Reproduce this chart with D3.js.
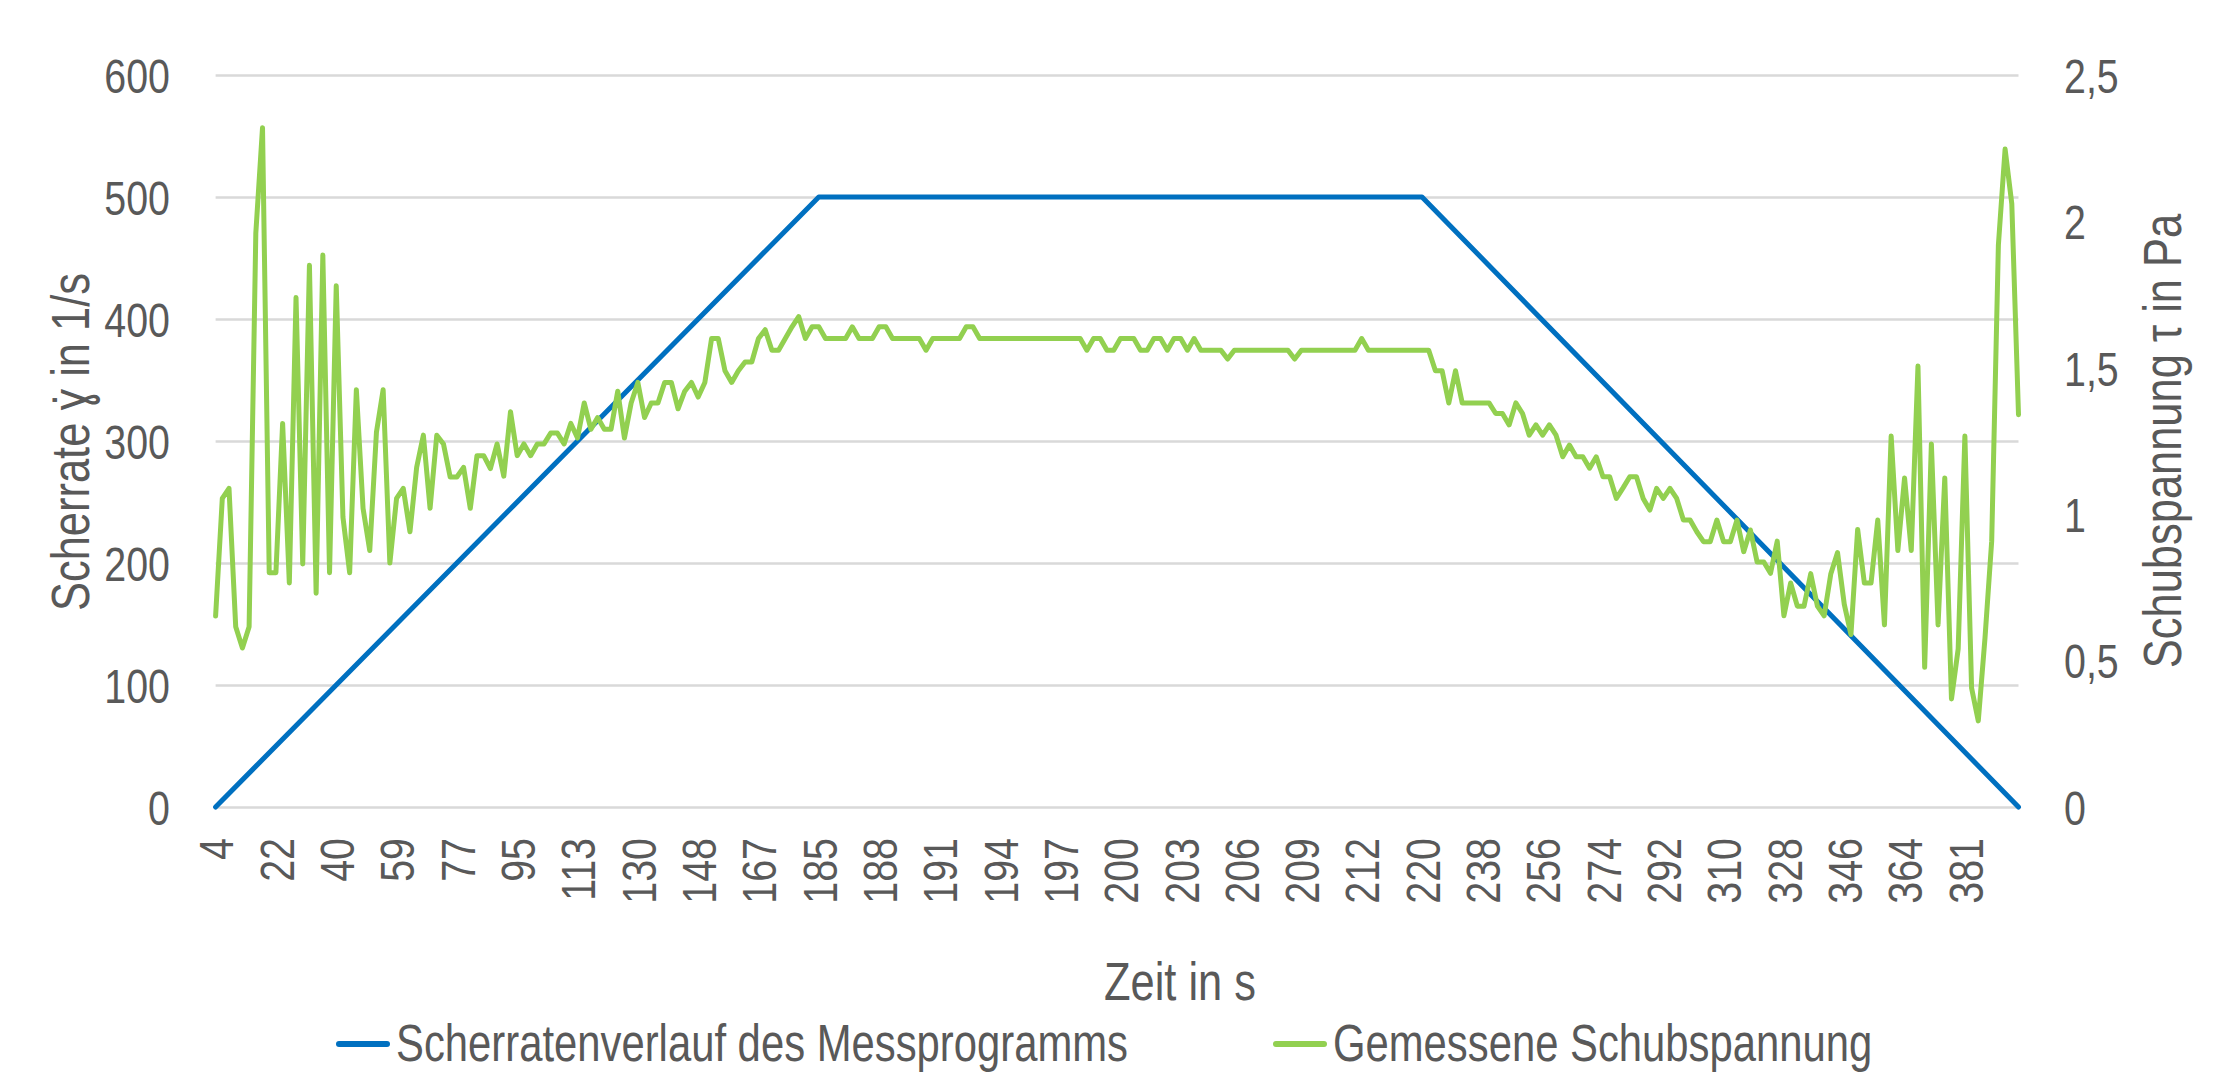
<!DOCTYPE html>
<html>
<head>
<meta charset="utf-8">
<script src="https://cdn.jsdelivr.net/npm/d3@7"></script>
<style>
body { margin: 0; background: #fff; }
text { font-family: "Liberation Sans", Arial, sans-serif; fill: #595959; }
</style>
</head>
<body>
<svg id="chart" width="2215" height="1074"></svg>
<script>
// x category labels (every 9th measurement point)
var xLabels = ["4","22","40","59","77","95","113","130","148","167","185","188","191","194","197","200","203","206","209","212","220","238","256","274","292","310","328","346","364","381"];
var labelStep = 9;

// programmed shear rate (1/s): corner points of the ramp
var rateIdx = [0, 90, 180, 269];
var rateVal = [0, 500, 500, 0];

// measured shear stress (Pa), one value per point
var stress = [
  0.652, 1.054, 1.088, 0.616, 0.543, 0.616, 1.96, 2.32, 0.80, 0.80,
  1.31, 0.765, 1.74, 0.83, 1.85, 0.73, 1.885, 0.80, 1.78, 0.99,
  0.80, 1.425, 1.02, 0.876, 1.28, 1.425, 0.833, 1.054, 1.088, 0.94,
  1.16, 1.27, 1.02, 1.27, 1.24, 1.127, 1.127, 1.16, 1.02, 1.2,
  1.2, 1.156, 1.24, 1.13, 1.35, 1.2, 1.24, 1.2, 1.24, 1.24,
  1.277, 1.277, 1.24, 1.31, 1.26, 1.38, 1.29, 1.33, 1.29, 1.29,
  1.42, 1.26, 1.38, 1.45, 1.33, 1.38, 1.38, 1.45, 1.45, 1.36,
  1.42, 1.45, 1.40, 1.45, 1.60, 1.60, 1.49, 1.45, 1.49, 1.52,
  1.52, 1.60, 1.63, 1.56, 1.56, 1.60, 1.64, 1.675, 1.60, 1.64,
  1.64, 1.60, 1.60, 1.60, 1.60, 1.64, 1.60, 1.60, 1.60, 1.64,
  1.64, 1.60, 1.60, 1.60, 1.60, 1.60, 1.56, 1.60, 1.60, 1.60,
  1.60, 1.60, 1.64, 1.64, 1.60, 1.60, 1.60, 1.60, 1.60, 1.60,
  1.60, 1.60, 1.60, 1.60, 1.60, 1.60, 1.60, 1.60, 1.60, 1.60,
  1.56, 1.60, 1.60, 1.56, 1.56, 1.60, 1.60, 1.60, 1.56, 1.56,
  1.60, 1.60, 1.56, 1.60, 1.60, 1.56, 1.60, 1.56, 1.56, 1.56,
  1.56, 1.53, 1.56, 1.56, 1.56, 1.56, 1.56, 1.56, 1.56, 1.56,
  1.56, 1.53, 1.56, 1.56, 1.56, 1.56, 1.56, 1.56, 1.56, 1.56,
  1.56, 1.60, 1.56, 1.56, 1.56, 1.56, 1.56, 1.56, 1.56, 1.56,
  1.56, 1.56, 1.49, 1.49, 1.38, 1.49, 1.38, 1.38, 1.38, 1.38,
  1.38, 1.344, 1.344, 1.305, 1.38, 1.344, 1.27, 1.305, 1.27, 1.305,
  1.27, 1.196, 1.236, 1.196, 1.196, 1.157, 1.196, 1.128, 1.128, 1.054,
  1.09, 1.128, 1.128, 1.054, 1.014, 1.088, 1.054, 1.088, 1.054, 0.98,
  0.98, 0.94, 0.906, 0.906, 0.98, 0.906, 0.906, 0.98, 0.872, 0.946,
  0.837, 0.837, 0.798, 0.908, 0.653, 0.765, 0.686, 0.686, 0.797, 0.686,
  0.653, 0.797, 0.869, 0.693, 0.589, 0.948, 0.765, 0.765, 0.98, 0.622,
  1.267, 0.876, 1.124, 0.876, 1.506, 0.477, 1.24, 0.622, 1.124, 0.369,
  0.54, 1.267, 0.406, 0.294, 0.577, 0.908, 1.92, 2.247, 2.06, 1.34
];

var rateTicks = [0, 100, 200, 300, 400, 500, 600];
var stressTicks = [0, 0.5, 1, 1.5, 2, 2.5];

var svg = d3.select("#chart");
var plotLeft = 215.6, plotRight = 2018.5, plotTop = 75, plotBottom = 807;
var sx = 0.82; // narrow letter shape
var fontFam = "'Liberation Sans', Arial, sans-serif";

var x = d3.scaleLinear().domain([0, stress.length - 1]).range([plotLeft, plotRight]);
var yL = d3.scaleLinear().domain([0, 600]).range([plotBottom, plotTop]);
var yR = d3.scaleLinear().domain([0, 2.5]).range([plotBottom, plotTop]);

// grid
svg.append("g")
  .attr("transform", "translate(" + plotLeft + ",0)")
  .call(d3.axisLeft(yL).tickValues(rateTicks).tickSize(-(plotRight - plotLeft)).tickFormat(""))
  .call(function(g){ g.select(".domain").remove(); })
  .selectAll("line")
  .attr("stroke", "#d9d9d9")
  .attr("stroke-width", 2.5);

// left axis labels
svg.append("g")
  .attr("transform", "translate(" + plotLeft + ",0)")
  .call(d3.axisLeft(yL).tickValues(rateTicks).tickSize(0))
  .call(function(g){ g.select(".domain").remove(); })
  .selectAll("text")
  .attr("x", (170 - plotLeft) / sx)
  .attr("dy", "0.36em")
  .attr("transform", "scale(" + sx + ",1)")
  .style("font-size", "48px")
  .style("font-family", fontFam)
  .attr("fill", "#595959");

// right axis labels
svg.append("g")
  .attr("transform", "translate(" + plotRight + ",0)")
  .call(d3.axisRight(yR).tickValues(stressTicks).tickSize(0)
    .tickFormat(function(d){ return String(d).replace(".", ","); }))
  .call(function(g){ g.select(".domain").remove(); })
  .selectAll("text")
  .attr("x", (2064 - plotRight) / sx)
  .attr("dy", "0.36em")
  .attr("transform", "scale(" + sx + ",1)")
  .style("font-size", "48px")
  .style("font-family", fontFam)
  .attr("fill", "#595959");

// x axis labels
var tickIdx = xLabels.map(function(d, i){ return i * labelStep; });
svg.append("g")
  .attr("transform", "translate(0," + plotBottom + ")")
  .call(d3.axisBottom(x).tickValues(tickIdx).tickSize(0)
    .tickFormat(function(d, i){ return xLabels[i]; }))
  .call(function(g){ g.select(".domain").remove(); })
  .selectAll("text")
  .attr("text-anchor", "end")
  .attr("x", -31 / sx)
  .attr("y", 0)
  .attr("dy", "0.36em")
  .attr("transform", "rotate(-90) scale(" + sx + ",1)")
  .style("font-size", "48px")
  .style("font-family", fontFam)
  .attr("fill", "#595959");

// lines
var rateLine = d3.line()
  .x(function(d, i){ return x(rateIdx[i]); })
  .y(function(d){ return yL(d); });
svg.append("path")
  .datum(rateVal)
  .attr("d", rateLine)
  .attr("fill", "none")
  .attr("stroke", "#0070c0")
  .attr("stroke-width", 5)
  .attr("stroke-linejoin", "round")
  .attr("stroke-linecap", "round");

var stressLine = d3.line()
  .x(function(d, i){ return x(i); })
  .y(function(d){ return yR(d); });
svg.append("path")
  .datum(stress)
  .attr("d", stressLine)
  .attr("fill", "none")
  .attr("stroke", "#92d050")
  .attr("stroke-width", 5)
  .attr("stroke-linejoin", "round")
  .attr("stroke-linecap", "round");

// titles
function label(txt, tx, ty, rot, size, anchor){
  svg.append("text")
    .attr("transform", "translate(" + tx + "," + ty + ")" + (rot ? " rotate(" + rot + ")" : "") + " scale(" + sx + ",1)")
    .attr("text-anchor", anchor)
    .style("font-size", size + "px")
    .text(txt);
}
label("Zeit in s", 1180, 1000, 0, 53, "middle");
label("Scherrate \u0263\u0307 in 1/s", 89, 442, -90, 53, "middle");
label("Schubspannung \u03c4 in Pa", 2181, 441, -90, 53, "middle");

// legend
var legend = [
  {name: "Scherratenverlauf des Messprogramms", color: "#0070c0", x: 339},
  {name: "Gemessene Schubspannung", color: "#92d050", x: 1276}
];
legend.forEach(function(d){
  svg.append("line")
    .attr("x1", d.x).attr("x2", d.x + 48)
    .attr("y1", 1044).attr("y2", 1044)
    .attr("stroke", d.color)
    .attr("stroke-width", 6)
    .attr("stroke-linecap", "round");
  label(d.name, d.x + 57, 1061, 0, 51, "start");
});
</script>
</body>
</html>
